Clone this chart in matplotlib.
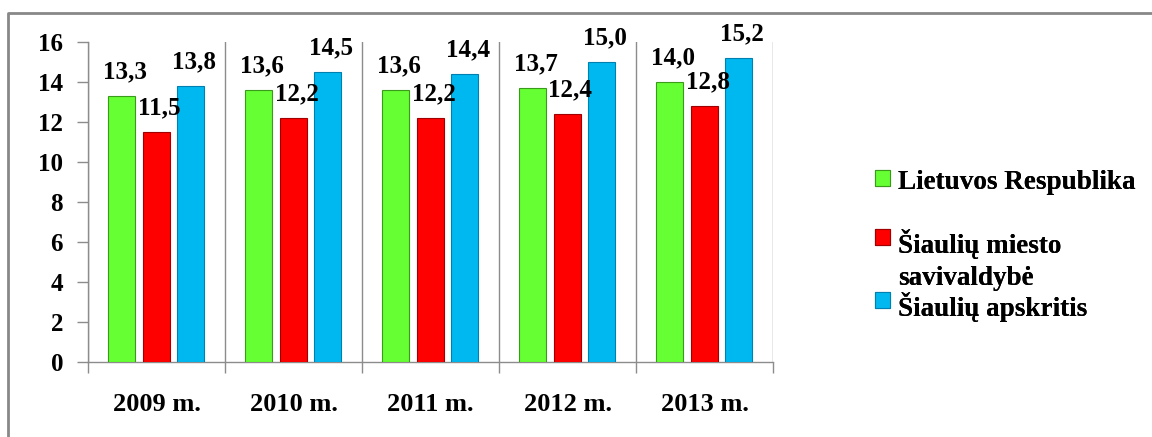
import matplotlib.pyplot as plt
from matplotlib.lines import Line2D
import numpy as np

# data
years = ['2009 m.', '2010 m.', '2011 m.', '2012 m.', '2013 m.']
lietuva = [13.3, 13.6, 13.6, 13.7, 14.0]
siauliu_miestas = [11.5, 12.2, 12.2, 12.4, 12.8]
siauliu_apskritis = [13.8, 14.5, 14.4, 15.0, 15.2]
yticks = [0, 2, 4, 6, 8, 10, 12, 14, 16]
series_names = ['Lietuvos Respublika', 'Šiaulių miesto\nsavivaldybė', 'Šiaulių apskritis']

FONT = 'Liberation Serif'

fig = plt.figure(figsize=(11.52, 4.37), dpi=100, facecolor='white')
ax = fig.add_axes([88/1152, 1-362/437, (773-88)/1152, (362-42)/437])

grey = '#8c8c8c'
colors = ['#66ff33', '#ff0000', '#00b8f0']
edges = ['#3a9a1a', '#a00000', '#0080b0']
offsets = [-0.255, 0.0, 0.25]
width = 0.2
x = np.arange(len(years))

bars = []
for vals, off, c, ec in zip([lietuva, siauliu_miestas, siauliu_apskritis], offsets, colors, edges):
    b = ax.bar(x + off, vals, width, color=c, edgecolor=ec, linewidth=0.8, zorder=3)
    bars.append(b)
    for xi, v in zip(x + off, vals):
        ax.annotate(f'{v:.1f}'.replace('.', ','), (xi, v), xytext=(3, 18),
                    textcoords='offset pixels', ha='center', va='baseline',
                    family=FONT, fontsize=18, fontweight='bold', zorder=6)

ax.set_xlim(-0.5, len(years) - 0.5)
ax.set_ylim(0, 16)
ax.set_yticks(yticks)
ax.set_yticklabels([str(t) for t in yticks], family=FONT, fontsize=18, fontweight='bold')
ax.set_xticks(x)
ax.set_xticklabels(years, family=FONT, fontsize=19, fontweight='bold')
ax.set_xticks(np.arange(-0.5, len(years)), minor=True)
ax.tick_params(axis='x', which='major', length=0, pad=22)
ax.tick_params(axis='x', which='minor', length=8, color=grey, width=1)
ax.tick_params(axis='y', length=8, color=grey, width=1, pad=10)
ax.grid(True, axis='x', which='minor', color=grey, linewidth=1, zorder=0)
ax.grid(False, axis='x', which='major')
for s in ['top', 'right']:
    ax.spines[s].set_visible(False)
for s in ['left', 'bottom']:
    ax.spines[s].set_color(grey)
    ax.spines[s].set_linewidth(1)

# legend, one block per series
leg_tops = [1-170/437, 1-229/437, 1-292/437]
for b, name, top in zip(bars, series_names, leg_tops):
    lg = fig.legend([b], [name], loc='upper left', bbox_to_anchor=(875/1152, top),
                    frameon=False, borderpad=0, borderaxespad=0,
                    handlelength=0.55, handleheight=0.55, handletextpad=0.3,
                    prop={'family': FONT, 'size': 19.5, 'weight': 'bold'})
    lg.get_texts()[0].set_linespacing(1.35)
    # put the marker beside the first line of the label
    for col in lg._legend_handle_box.get_children():
        for row in col.get_children():
            row.align = 'top'
    fig.add_artist(lg)

# outer frame
fig.add_artist(Line2D([8/1152, 8/1152, 1], [0, 1-13/437, 1-13/437],
                      transform=fig.transFigure, color='#888888', linewidth=2))

fig.savefig('out.png', dpi=100)
